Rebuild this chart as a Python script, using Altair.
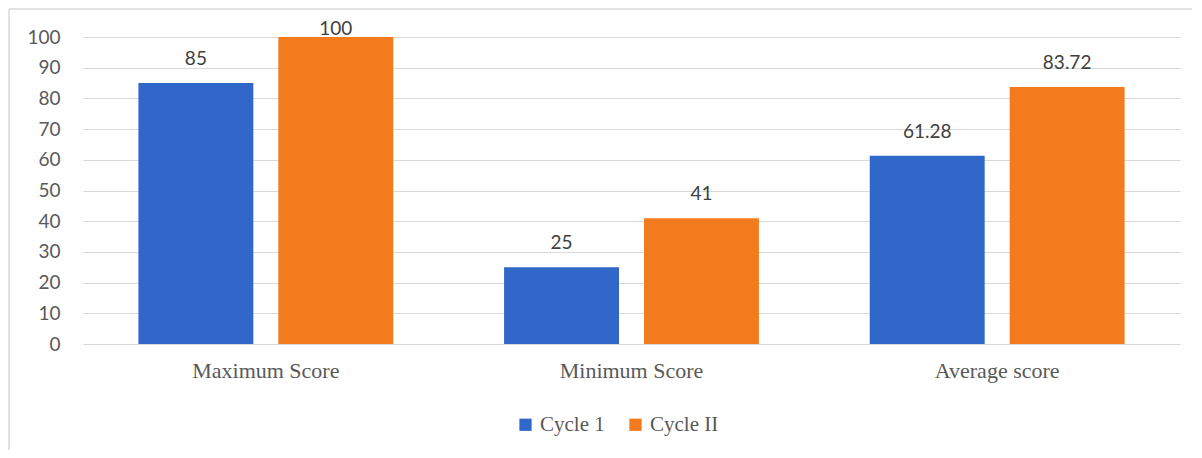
import altair as alt
import pandas as pd

categories = ["Maximum Score", "Minimum Score", "Average score"]
series = ["Cycle 1", "Cycle II"]
cycle1 = [85, 25, 61.28]
cycle2 = [100, 41, 83.72]
y_ticks = [0, 10, 20, 30, 40, 50, 60, 70, 80, 90, 100]
colors = ["#3067C8", "#F47A1E"]

rows = []
for c, a, b in zip(categories, cycle1, cycle2):
    rows.append({"category": c, "series": series[0], "value": a, "label": f"{a:g}"})
    rows.append({"category": c, "series": series[1], "value": b, "label": f"{b:g}"})
df = pd.DataFrame(rows)

W, H = 1097, 307

x_axis = alt.Axis(labelAngle=0, domain=False, ticks=False,
                  labelFont="Liberation Serif", labelFontSize=22,
                  labelColor="#595959", labelPadding=16)
y_axis = alt.Axis(values=y_ticks, domain=False, ticks=False,
                  gridColor="#D9D9D9", gridWidth=1, labelOverlap=False,
                  labelFont="Lato", labelFontSize=19,
                  labelColor="#595959", labelPadding=23,
                  minExtent=75, maxExtent=75)
x_scale = alt.Scale(paddingInner=0, paddingOuter=0)
xo_scale = alt.Scale(paddingInner=0.1786, paddingOuter=0.396)
y_scale = alt.Scale(domain=[0, 100], nice=False)

bars = alt.Chart(df).mark_bar().encode(
    x=alt.X("category:N", sort=categories, title=None, scale=x_scale, axis=x_axis),
    xOffset=alt.XOffset("series:N", sort=series, scale=xo_scale),
    y=alt.Y("value:Q", scale=y_scale, title=None, axis=y_axis),
    color=alt.Color("series:N", sort=series, title=None,
                    scale=alt.Scale(domain=series, range=colors),
                    legend=alt.Legend(orient="none", legendX=432, legendY=377,
                                      direction="horizontal",
                                      symbolType="square", symbolSize=150,
                                      symbolStrokeWidth=0, symbolOpacity=1,
                                      labelFont="Liberation Serif", labelFontSize=21,
                                      labelColor="#595959", labelOffset=4,
                                      columnPadding=20)),
)

labels = alt.Chart(df).transform_calculate(
    label_y="min(datum.value + 5.9, 100.65)"
).mark_text(font="Lato", fontSize=19, color="#404040", baseline="alphabetic").encode(
    x=alt.X("category:N", sort=categories, title=None, scale=x_scale, axis=x_axis),
    xOffset=alt.XOffset("series:N", sort=series, scale=xo_scale),
    y=alt.Y("label_y:Q", scale=y_scale, title=None, axis=y_axis),
    text="label:N",
)

frame = pd.DataFrame({"k": [0]})
border_left = alt.Chart(frame).mark_rule(stroke="#D9D9D9", strokeWidth=1.5, opacity=1).encode(
    x=alt.value(-74), y=alt.value(-28), y2=alt.value(420)
)
border_top = alt.Chart(frame).mark_rule(stroke="#D9D9D9", strokeWidth=1.5, opacity=1).encode(
    y=alt.value(-28), x=alt.value(-74), x2=alt.value(1120)
)

chart = alt.layer(bars, labels, border_left, border_top).properties(
    width=W, height=H,
    background="white",
    autosize=alt.AutoSizeParams(type="none"),
    padding={"left": 75, "top": 29, "right": 12, "bottom": 106},
).configure_view(stroke=None, strokeWidth=0)

chart.save("out.html", embed_options={"renderer": "svg", "actions": False})
